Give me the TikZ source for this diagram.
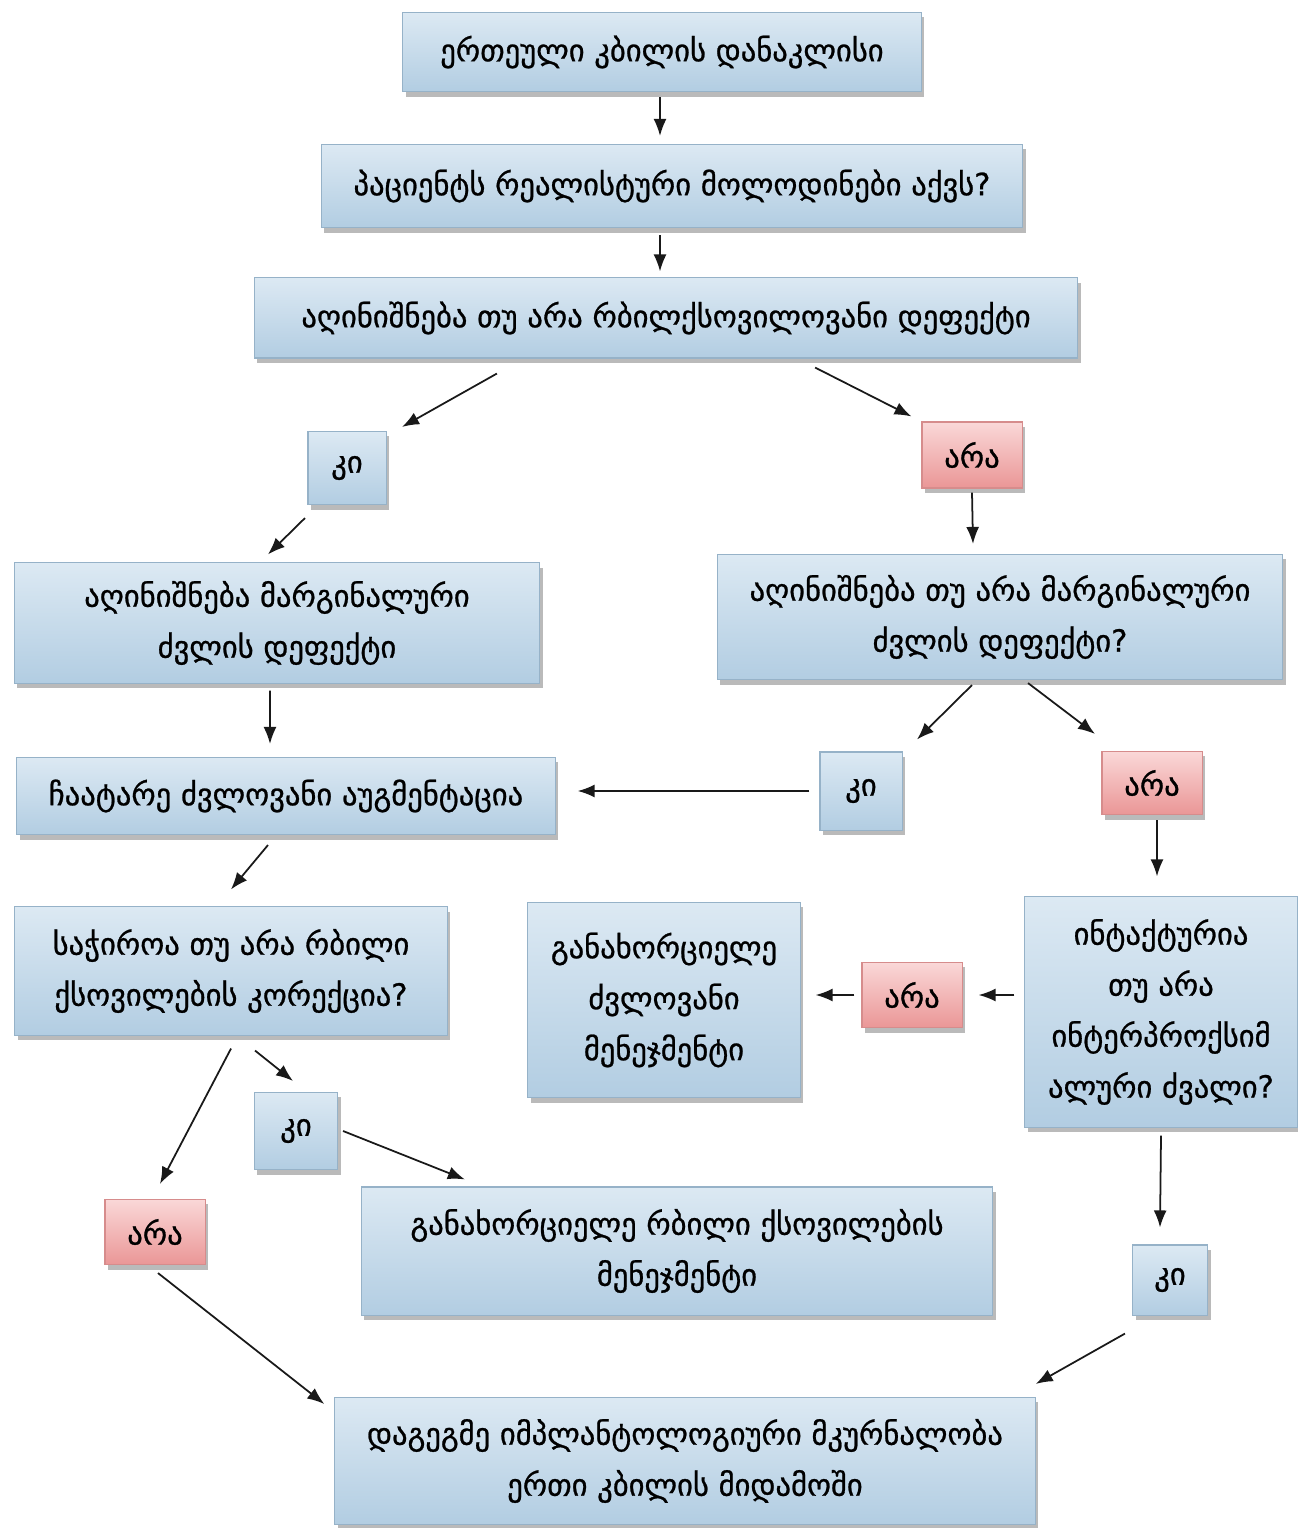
\documentclass[tikz,border=0pt]{standalone}
\usepackage{fontspec}
\newfontfamily\geo[FakeBold=0.8]{DejaVu Sans}
\usetikzlibrary{arrows.meta,shadows}

\definecolor{boxtop}{RGB}{220,233,243}
\definecolor{boxbot}{RGB}{178,205,226}
\definecolor{boxline}{RGB}{150,178,200}
\definecolor{notop}{RGB}{250,216,216}
\definecolor{nobot}{RGB}{234,150,150}
\definecolor{noline}{RGB}{214,140,140}

\begin{document}
\begin{tikzpicture}[
    x=0.01cm, y=-0.01cm,
    box/.style={draw=boxline, line width=0.3pt,
                top color=boxtop, bottom color=boxbot,
                drop shadow={shadow xshift=0.03cm, shadow yshift=-0.05cm,
                             fill=black!60, opacity=0.45},
                font=\geo\fontsize{8.7}{14.5}\selectfont,
                align=center, inner sep=0pt},
    nobox/.style={box, draw=noline, top color=notop, bottom color=nobot},
    arr/.style={-{Latex[length=0.17cm,width=0.13cm]}, line width=0.5pt,
                black!90}
]

% ---------- page ----------
\fill[white] (0,0) rectangle (1297,1528);
\useasboundingbox (0,0) rectangle (1297,1528);

% ---------- main column ----------
\node[box, minimum width=5.18cm, minimum height=0.79cm] (title) at (662,52)
      {ერთეული კბილის დანაკლისი};
\node[box, minimum width=7.01cm, minimum height=0.83cm] (patient) at (672,186)
      {პაციენტს რეალისტური მოლოდინები აქვს?};
\node[box, minimum width=8.23cm, minimum height=0.80cm] (soft) at (666,318)
      {აღინიშნება თუ არა რბილქსოვილოვანი დეფექტი};

% ---------- first answers ----------
\node[box, minimum width=0.78cm, minimum height=0.73cm] (yes1) at (347,468) {კი};
\node[nobox, minimum width=1.00cm, minimum height=0.66cm] (no1) at (972,455) {არა};

% ---------- bone defect ----------
\node[box, minimum width=5.25cm, minimum height=1.20cm] (margL) at (277,623)
      {აღინიშნება მარგინალური\\ძვლის დეფექტი};
\node[box, minimum width=5.65cm, minimum height=1.25cm] (margR) at (1000,617)
      {აღინიშნება თუ არა მარგინალური\\ძვლის დეფექტი?};
\node[box, minimum width=5.38cm, minimum height=0.77cm] (augment) at (286,796)
      {ჩაატარე ძვლოვანი აუგმენტაცია};
\node[box, minimum width=0.82cm, minimum height=0.78cm] (yes2) at (861,791) {კი};
\node[nobox, minimum width=1.00cm, minimum height=0.63cm] (no2) at (1152,783) {არა};

% ---------- middle row ----------
\node[box, minimum width=4.32cm, minimum height=1.28cm] (needsoft) at (231,971)
      {საჭიროა თუ არა რბილი\\ქსოვილების კორექცია?};
\node[box, minimum width=2.72cm, minimum height=1.95cm] (bonemgmt) at (664,1000)
      {განახორციელე\\ძვლოვანი\\მენეჯმენტი};
\node[nobox, minimum width=1.00cm, minimum height=0.65cm] (no3) at (912,995) {არა};
\node[box, minimum width=2.72cm, minimum height=2.30cm] (intact) at (1161,1012)
      {ინტაქტურია\\თუ არა\\ინტერპროქსიმ\\ალური ძვალი?};

% ---------- lower row ----------
\node[box, minimum width=0.83cm, minimum height=0.77cm] (yes3) at (296,1131) {კი};
\node[nobox, minimum width=1.00cm, minimum height=0.65cm] (no4) at (155,1232) {არა};
\node[box, minimum width=6.31cm, minimum height=1.28cm] (softmgmt) at (677,1251)
      {განახორციელე რბილი ქსოვილების\\მენეჯმენტი};
\node[box, minimum width=0.75cm, minimum height=0.70cm] (yes4) at (1170,1280) {კი};
\node[box, minimum width=7.00cm, minimum height=1.27cm] (final) at (685,1461)
      {დაგეგმე იმპლანტოლოგიური მკურნალობა\\ერთი კბილის მიდამოში};

% ---------- arrows ----------
\draw[arr] ([xshift=-0.02cm,yshift=-0.05cm]title.south)
        -- ([xshift=-0.12cm,yshift=0.08cm]patient.north);
\draw[arr] ([xshift=-0.12cm,yshift=-0.07cm]patient.south)
        -- ([xshift=-0.06cm,yshift=0.06cm]soft.north);
\draw[arr] ([xshift=-1.69cm,yshift=-0.15cm]soft.south)
        -- ([xshift=0.55cm,yshift=0.04cm]yes1.north);
\draw[arr] ([xshift=1.49cm,yshift=-0.09cm]soft.south)
        -- ([xshift=-0.10cm,yshift=0.05cm]no1.north west);
\draw[arr] ([xshift=-0.42cm,yshift=-0.13cm]yes1.south)
        -- ([xshift=-0.09cm,yshift=0.08cm]margL.north);
\draw[arr] ([yshift=-0.04cm]no1.south)
        -- ([xshift=-0.27cm,yshift=0.10cm]margR.north);
\draw[arr] ([xshift=-0.07cm,yshift=-0.07cm]margL.south)
        -- ([xshift=-0.16cm,yshift=0.13cm]augment.north);
\draw[arr] ([xshift=-0.28cm,yshift=-0.05cm]margR.south)
        -- ([xshift=0.56cm,yshift=0.12cm]yes2.north);
\draw[arr] ([xshift=0.28cm,yshift=-0.03cm]margR.south)
        -- ([xshift=-0.57cm,yshift=0.17cm]no2.north);
\draw[arr] ([xshift=-0.10cm]yes2.west)
        -- ([xshift=0.22cm]yes2.west -| augment.east);
\draw[arr] ([xshift=0.05cm,yshift=-0.05cm]no2.south)
        -- ([xshift=-0.04cm,yshift=0.20cm]intact.north);
\draw[arr] ([xshift=-0.18cm,yshift=-0.10cm]augment.south)
        -- ([yshift=0.17cm]needsoft.north);
\draw[arr] ([xshift=-0.10cm]intact.west |- no3.east)
        -- ([xshift=0.16cm]no3.east);
\draw[arr] ([xshift=-0.07cm]no3.west)
        -- ([xshift=0.15cm]no3.west -| bonemgmt.east);
\draw[arr] ([yshift=-0.08cm]intact.south)
        -- ([xshift=-0.10cm,yshift=0.17cm]yes4.north);
\draw[arr] ([xshift=-0.45cm,yshift=-0.18cm]yes4.south)
        -- ([yshift=0.13cm]final.north east);
\draw[arr] ([yshift=-0.13cm]needsoft.south)
        -- ([xshift=0.05cm,yshift=0.15cm]no4.north);
\draw[arr] ([xshift=0.24cm,yshift=-0.15cm]needsoft.south)
        -- ([xshift=-0.03cm,yshift=0.11cm]yes3.north);
\draw[arr] ([xshift=0.05cm]yes3.east)
        -- ([xshift=1.04cm,yshift=0.07cm]softmgmt.north west);
\draw[arr] ([xshift=0.03cm,yshift=-0.08cm]no4.south)
        -- ([xshift=-0.10cm,yshift=-0.07cm]final.north west);

\end{tikzpicture}
\end{document}
